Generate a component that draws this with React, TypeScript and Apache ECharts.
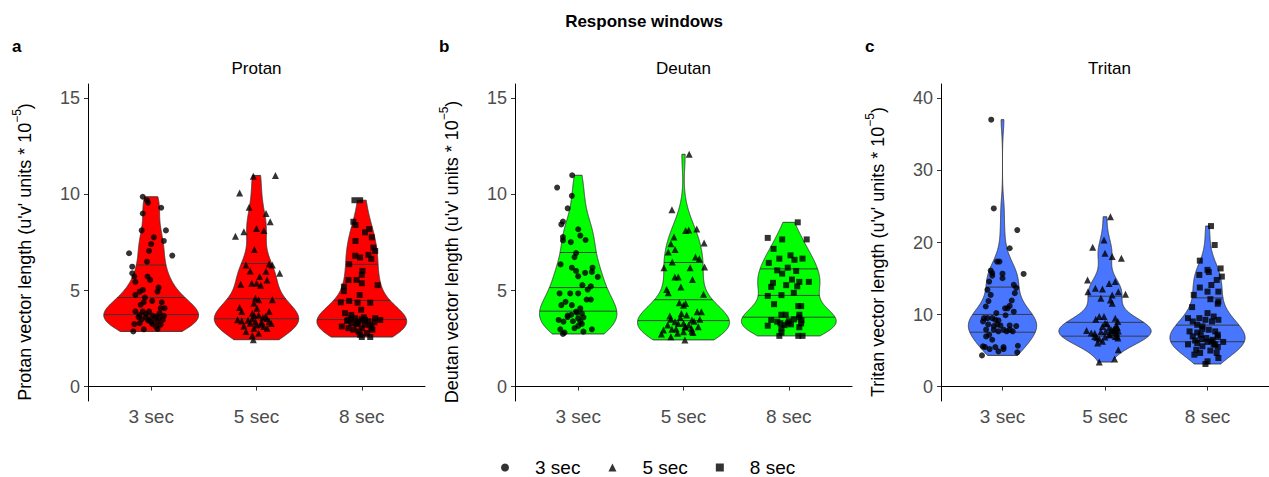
import React, { useEffect, useRef } from 'react';
import * as echarts from 'echarts';

const categories = ['3 sec', '5 sec', '8 sec'];
const panelTitles = ['Protan', 'Deutan', 'Tritan'];
const panelLetters = ['a', 'b', 'c'];
const yNamePrefixes = ['Protan', 'Deutan', 'Tritan'];
const yTicks = [[0, 5, 10, 15], [0, 5, 10, 15], [0, 10, 20, 30, 40]];
const yLimits = [[0, 15], [0, 15], [0, 40]];
const fills = ['#FF0000', '#00FF00', '#4876FF'];
const symbols = ['circle', 'triangle', 'rect'];
const symbolSizes = [6, 7, 6];

// points: [horizontal jitter offset (category units), value]
const protan3s = [[-0.08,9.88],[-0.04,9.70],[-0.03,9.58],[0.095,9.31],[-0.08,9.01],[0.14,8.13],[-0.09,8.13],[0.025,7.77],[0.12,7.58],[0,7.42],[-0.02,7.06],[-0.21,6.94],[0.2,6.82],[-0.04,6.5],[-0.18,6.24],[-0.18,5.9],[-0.16,5.73],[-0.035,5.73],[-0.01,5.55],[-0.15,5.45],[0.07,5.15],[-0.08,5.03],[0.06,4.94],[-0.11,4.94],[-0.15,4.77],[-0.06,4.63],[0.01,4.46],[-0.07,4.39],[0.1,4.39],[-0.1,4.26],[0.127,4.08],[0.09,4.08],[-0.08,3.91],[-0.15,3.91],[-0.02,3.91],[-0.11,3.73],[0.01,3.70],[-0.05,3.6],[0.045,3.65],[0.076,3.56],[0.11,3.47],[-0.02,3.47],[0.06,3.39],[-0.11,3.3],[-0.16,3.25],[0.013,3.25],[0.09,3.22],[0.045,3.13],[0.06,3.0],[-0.07,2.98],[-0.17,2.87],[-0.03,3.45],[0.03,3.55],[-0.12,3.62],[0.12,3.68],[-0.05,3.78],[0.08,3.82],[0,3.35],[-0.09,3.5]];
const protan5s = [[-0.03,10.95],[0.18,10.99],[-0.16,10.07],[-0.07,9.34],[0.09,9.01],[0.13,8.58],[0,8.23],[0.07,8.13],[-0.12,8.06],[-0.2,7.82],[-0.02,7.14],[-0.1,6.33],[0.12,6.38],[0.15,6.33],[-0.06,6.02],[0.09,6.0],[0.22,5.9],[0.03,5.73],[0.1,5.55],[-0.045,5.38],[0,5.38],[-0.15,5.33],[0.04,5.28],[-0.01,4.6],[0.02,4.52],[0.15,4.52],[-0.025,4.34],[-0.16,4.12],[0.005,4.08],[0.12,3.91],[-0.14,3.91],[-0.04,3.82],[0.02,3.73],[0.085,3.65],[-0.18,3.48],[-0.14,3.42],[-0.04,3.53],[-0.01,3.39],[-0.06,3.3],[0.04,3.25],[0.12,3.39],[0.07,3.13],[-0.025,3.04],[-0.1,2.87],[0.02,2.78],[0.1,3.04],[-0.03,2.44],[-0.04,2.66],[0,3.2],[0.05,3.35],[-0.08,3.45],[0.1,3.55],[-0.12,3.15],[0.14,3.28],[0.06,3.6],[-0.02,3.7]];
const protan8s = [[-0.07,9.70],[-0.016,9.70],[-0.08,8.58],[-0.06,8.41],[0.03,8.03],[0.07,8.2],[0.095,7.77],[-0.06,7.58],[0.11,7.23],[0.127,7.06],[-0.063,6.81],[-0.016,6.72],[0.063,6.86],[0.09,6.65],[-0.12,6.37],[0.006,6.02],[0,5.82],[-0.127,5.55],[-0.05,5.55],[0,5.38],[0.15,5.28],[-0.17,5.2],[-0.17,4.97],[-0.02,4.77],[-0.2,4.39],[-0.12,4.46],[-0.04,4.37],[0.08,4.37],[-0.006,4.0],[-0.16,3.82],[-0.1,3.73],[-0.063,3.56],[0.127,3.56],[0.175,3.47],[-0.127,3.47],[-0.03,3.39],[0.03,3.47],[-0.1,3.3],[-0.05,3.25],[-0.19,3.13],[-0.127,3.04],[0,3.04],[0.03,3.22],[0.09,3.07],[-0.08,2.96],[-0.03,2.87],[-0.016,2.70],[0,2.58],[0.08,2.58],[0.05,2.78],[0.1,2.96],[-0.04,3.3],[0.06,3.4],[0.12,3.35],[-0.1,3.55],[0.02,3.6],[0.08,3.2],[-0.14,3.42],[0,3.5]];
const deutan3s = [[-0.057,11.0],[-0.2,10.36],[-0.06,9.93],[-0.1,9.28],[-0.145,8.59],[-0.16,8.44],[0,8.19],[-0.145,7.78],[-0.145,7.61],[0.02,7.86],[0.07,7.63],[-0.07,7.52],[-0.02,6.95],[-0.035,6.74],[-0.167,6.36],[-0.06,6.19],[-0.02,6.02],[0.136,6.19],[0.066,5.92],[0,5.74],[0.186,5.71],[0.13,5.97],[0.04,5.28],[0.12,5.22],[0.09,5.05],[-0.177,4.85],[-0.076,4.85],[0,4.85],[-0.12,4.41],[-0.16,4.24],[-0.06,4.24],[0.08,4.53],[0.12,4.53],[0.02,4.07],[-0.013,3.85],[0.035,3.81],[-0.1,3.62],[-0.066,3.74],[-0.186,3.47],[-0.14,3.38],[0.02,3.38],[0.035,3.26],[0,3.16],[-0.035,3.04],[-0.17,2.98],[0.13,2.98],[0.05,2.86],[-0.13,2.81],[-0.145,2.74],[-0.05,3.4],[0,3.55],[-0.1,3.7],[0.05,3.6],[-0.02,3.9]];
const deutan5s = [[0.054,12.09],[-0.11,9.21],[0.02,8.12],[0.05,8.15],[0.126,8.2],[-0.09,7.78],[0.196,7.47],[-0.12,7.44],[-0.08,7.13],[-0.145,7.0],[0.114,6.74],[0.15,6.65],[-0.107,6.48],[-0.186,6.19],[0.063,6.19],[0.2,6.23],[-0.082,5.71],[-0.05,5.71],[0.085,5.57],[-0.025,5.19],[-0.145,4.88],[0.19,4.81],[-0.16,5.05],[-0.04,4.36],[0.02,4.33],[0.13,3.9],[0.17,3.9],[0,4.24],[-0.13,3.67],[-0.02,3.81],[0.03,3.72],[0.08,3.47],[0.155,3.5],[-0.08,3.38],[-0.15,3.21],[-0.05,3.29],[0.013,3.12],[0.076,3.03],[-0.19,2.95],[-0.11,2.98],[0,2.86],[0.14,3.12],[-0.21,2.74],[-0.12,2.6],[-0.057,2.78],[0.09,2.81],[0.013,2.43],[0,3.3],[0.05,3.2],[-0.07,3.0],[0.1,3.4],[-0.12,3.5],[0.02,3.1],[0.08,2.9],[-0.03,3.6]];
const deutan8s = [[0.085,8.55],[-0.2,7.74],[-0.063,7.66],[0.17,7.66],[-0.145,7.17],[-0.09,6.66],[0.016,6.83],[0.054,6.6],[0.13,6.66],[-0.19,6.44],[-0.01,6.19],[-0.11,6.05],[0.07,6.02],[-0.063,5.88],[-0.15,5.4],[0.03,5.57],[0.1,5.45],[0.19,5.45],[-0.167,5.19],[-0.025,5.28],[0.08,5.22],[-0.2,4.72],[-0.07,4.76],[0.047,4.88],[-0.14,4.29],[0.09,4.19],[0.117,4.19],[-0.07,3.74],[-0.03,3.74],[0.1,3.74],[-0.167,3.47],[-0.11,3.38],[-0.01,3.29],[0.02,3.24],[-0.2,3.17],[0.117,3.29],[-0.07,3.03],[0.1,3.09],[-0.07,2.81],[0.09,2.64],[0.13,2.64],[-0.09,2.64],[0,3.4],[0.05,3.5],[-0.08,3.3],[0.1,3.6],[-0.04,3.2],[0.12,3.45]];
const tritan3s = [[-0.11,37.05],[-0.085,24.73],[0.144,21.73],[0.07,19.2],[-0.053,17.35],[-0.03,17.35],[-0.115,16.1],[-0.1,15.76],[0,15.67],[0.206,15.64],[-0.13,14.58],[-0.1,15.4],[0,15.04],[-0.147,13.43],[0.11,14.12],[0.134,13.71],[-0.115,12.73],[0.09,11.95],[0.12,12.96],[-0.137,11.87],[-0.163,11.12],[0.07,11.2],[0.025,10.87],[0.05,10.87],[-0.06,10.2],[0.03,9.9],[0.11,10.4],[-0.18,9.5],[-0.19,9.04],[-0.147,9.5],[-0.1,9.5],[-0.07,9.27],[-0.04,9.18],[-0.14,8.63],[-0.085,8.4],[-0.05,8.63],[-0.02,8.49],[-0.16,7.9],[-0.085,7.9],[-0.04,7.67],[0.01,7.9],[0.04,7.67],[0.07,7.9],[0.1,7.67],[0.134,8.4],[0.07,8.49],[-0.16,6.96],[-0.13,7.19],[-0.1,6.5],[-0.19,5.58],[-0.17,5.49],[-0.125,5.21],[-0.07,5.49],[0.01,5.49],[0.15,5.67],[-0.04,4.89],[0.144,4.75],[-0.2,4.33],[0.01,5.21]];
const tritan5s = [[0.053,23.57],[-0.01,20.35],[-0.12,19.33],[0,18.5],[0.07,18.05],[0.16,17.8],[-0.17,14.8],[0.1,14.6],[0.04,14.3],[-0.094,13.64],[-0.166,13.18],[-0.025,13.55],[0.13,13.18],[0.2,12.8],[0.07,12.7],[-0.04,12.27],[0.053,12.03],[0.07,11.58],[-0.056,9.73],[-0.09,9.36],[-0.01,9.73],[0.1,9.5],[0.125,9.04],[0.02,8.72],[-0.025,8.35],[0.04,8.12],[0.085,7.89],[0.115,7.43],[-0.18,7.8],[-0.134,7.43],[-0.1,6.97],[-0.056,6.6],[-0.072,6.05],[-0.025,6.28],[0.125,6.74],[0.1,6.97],[0.13,5.12],[0.094,3.83],[-0.056,3.41],[0.006,7.66],[0.04,7.2],[0.11,8.5],[0.12,8.2],[0.06,7.9],[0.09,7.5],[0.12,7.0],[-0.08,6.8],[0,8.8],[0.13,7.7],[0.05,7.2],[-0.04,7.6],[0.1,8.0],[-0.1,7.4],[0,6.9],[0.08,7.8]];
const tritan8s = [[0.034,22.28],[0.07,19.65],[-0.075,17.48],[0,16.2],[-0.08,15.5],[0.0125,15.9],[0.128,16.4],[0.14,15.27],[0.09,14.8],[-0.075,13.75],[0.0375,14.1],[-0.134,12.73],[0,13.18],[0.106,13.18],[0.106,11.8],[0.028,12.13],[0.1,11.5],[-0.15,11.03],[-0.19,9.5],[-0.144,9.04],[-0.08,9.5],[0,10.2],[0.06,9.73],[-0.02,9.27],[0.044,9.04],[0.106,9.27],[-0.1,8.58],[-0.05,8.35],[-0.175,7.66],[0.0125,7.89],[0.075,7.66],[-0.144,6.97],[-0.066,7.2],[-0.0125,6.74],[0.1,7.2],[-0.19,5.86],[-0.1,6.05],[-0.05,5.59],[0.0375,6.28],[0.075,5.82],[0.153,6.2],[-0.11,5.12],[-0.072,4.66],[-0.128,4.43],[0.028,5.0],[0.09,4.66],[0.106,3.97],[0,3.51],[-0.02,3.14],[-0.1,7.5],[0.05,6.5],[-0.05,8.0],[0.1,5.5],[0,6.2],[-0.06,6.6],[0.06,5.9],[-0.12,6.4],[0.1,6.9]];

const panelData = [
  [protan3s, protan5s, protan8s],
  [deutan3s, deutan5s, deutan8s],
  [tritan3s, tritan5s, tritan8s],
];

const FONT = 'Liberation Sans, Arial, Helvetica, sans-serif';

function quantile7(s: number[], p: number) {
  const n = s.length;
  const h = (n - 1) * p;
  const lo = Math.floor(h);
  const hi = Math.min(lo + 1, n - 1);
  return s[lo] + (h - lo) * (s[hi] - s[lo]);
}

function ydensity(vals: number[]) {
  const s = [...vals].sort((a, b) => a - b);
  const n = s.length;
  const mean = s.reduce((a, b) => a + b, 0) / n;
  const sd = Math.sqrt(s.reduce((a, b) => a + (b - mean) * (b - mean), 0) / (n - 1));
  const iqr = quantile7(s, 0.75) - quantile7(s, 0.25);
  let lo = Math.min(sd, iqr / 1.34);
  if (!(lo > 0)) lo = sd || 1;
  const bw = 0.9 * lo * Math.pow(n, -0.2);
  const N = 512;
  const ys: number[] = [];
  const dens: number[] = [];
  const ymin = s[0];
  const ymax = s[n - 1];
  for (let i = 0; i < N; i++) {
    const y = ymin + ((ymax - ymin) * i) / (N - 1);
    let d = 0;
    for (const v of s) {
      const z = (y - v) / bw;
      d += Math.exp(-0.5 * z * z);
    }
    ys.push(y);
    dens.push(d / (n * bw * Math.sqrt(2 * Math.PI)));
  }
  return { ys, dens };
}

function interp(xs: number[], ys: number[], x: number) {
  for (let i = 1; i < xs.length; i++) {
    if (xs[i] >= x) {
      const t = (x - xs[i - 1]) / (xs[i] - xs[i - 1] || 1);
      return ys[i - 1] + t * (ys[i] - ys[i - 1]);
    }
  }
  return ys[ys.length - 1];
}

function buildViolins(groups: number[][][]) {
  const ds = groups.map((g) => ydensity(g.map((p) => p[1])));
  const maxD = Math.max(...ds.map((d) => Math.max(...d.dens)));
  return ds.map((d) => {
    const hw = d.dens.map((v) => (0.45 * v) / maxD);
    const total = d.dens.reduce((a, b) => a + b, 0);
    let acc = 0;
    const cum = d.dens.map((v) => (acc += v) / total);
    const quants = [0.25, 0.5, 0.75].map((p) => {
      const y = interp(cum, d.ys, p);
      return { y, hw: interp(d.ys, hw, y) };
    });
    return { ys: d.ys, hw, quants };
  });
}

const App: React.FC = () => {
  const ref = useRef<HTMLDivElement>(null);

  useEffect(() => {
    document.body.style.margin = '0';
    if (!ref.current) return;
    const chart = echarts.init(ref.current, undefined, { renderer: 'svg' });

    const lefts = [88, 515, 941];
    const width = 337;
    const top = 84;
    const height = 317;

    const grids: any[] = [];
    const xAxes: any[] = [];
    const yAxes: any[] = [];
    const series: any[] = [];
    const graphics: any[] = [];

    graphics.push({
      type: 'text', x: 644, y: 21,
      style: { text: 'Response windows', fontSize: 17, fontWeight: 'bold', fontFamily: FONT, fill: '#000', align: 'center', verticalAlign: 'middle' },
    });

    panelData.forEach((groups, p) => {
      const [lo, hi] = yLimits[p];
      const pad = (hi - lo) * 0.05;
      grids.push({ left: lefts[p], top, width, height, containLabel: false });
      xAxes.push({
        type: 'value', gridIndex: p, min: 0.4, max: 3.6,
        axisLine: { show: true, lineStyle: { color: '#000', width: 1 } },
        axisTick: { show: true, customValues: [1, 2, 3], length: 4, lineStyle: { color: '#333' } },
        axisLabel: {
          customValues: [1, 2, 3], formatter: (v: number) => categories[Math.round(v) - 1] || '',
          color: '#4D4D4D', fontSize: 19, fontFamily: FONT, margin: 6,
        },
        splitLine: { show: false },
      });
      yAxes.push({
        type: 'value', gridIndex: p, min: lo - pad, max: hi + pad,
        axisLine: { show: true, lineStyle: { color: '#000', width: 1 } },
        axisTick: { show: true, customValues: yTicks[p], length: 4, lineStyle: { color: '#333' } },
        axisLabel: { customValues: yTicks[p], color: '#4D4D4D', fontSize: 18, fontFamily: FONT, margin: 8 },
        splitLine: { show: false },
      });

      const violins = buildViolins(groups);
      const fill = fills[p];
      series.push({
        type: 'custom', name: panelTitles[p] + ' violin', xAxisIndex: p, yAxisIndex: p, z: 1,
        silent: true,
        data: violins.map((v, k) => [k + 1, v.ys[v.ys.length - 1]]),
        renderItem: (params: any, api: any) => {
          const v = violins[params.dataIndex];
          const pos = params.dataIndex + 1;
          const left = v.ys.map((y, i) => api.coord([pos - v.hw[i], y]));
          const right = v.ys.map((y, i) => api.coord([pos + v.hw[i], y])).reverse();
          const children: any[] = [
            { type: 'polygon', shape: { points: left.concat(right) }, style: { fill, stroke: '#333', lineWidth: 0.9 } },
          ];
          v.quants.forEach((q) => {
            const a = api.coord([pos - q.hw, q.y]);
            const b = api.coord([pos + q.hw, q.y]);
            children.push({ type: 'line', shape: { x1: a[0], y1: a[1], x2: b[0], y2: b[1] }, style: { stroke: '#333', lineWidth: 0.9 } });
          });
          return { type: 'group', children };
        },
      });

      groups.forEach((pts, k) => {
        series.push({
          type: 'scatter', name: categories[k], xAxisIndex: p, yAxisIndex: p, z: 3,
          symbol: symbols[k], symbolSize: symbolSizes[k],
          itemStyle: { color: '#000' },
          data: pts.map(([dx, v]) => [k + 1 + dx, v]),
        });
      });

      const cx = lefts[p] + width / 2;
      graphics.push({
        type: 'text', x: lefts[p] - 76, y: 46,
        style: { text: panelLetters[p], fontSize: 17, fontWeight: 'bold', fontFamily: FONT, fill: '#000', align: 'left', verticalAlign: 'middle' },
      });
      graphics.push({
        type: 'text', x: cx, y: 68,
        style: { text: panelTitles[p], fontSize: 17, fontFamily: FONT, fill: '#000', align: 'center', verticalAlign: 'middle' },
      });
      graphics.push({
        type: 'text', x: lefts[p] - 66, y: 252, rotation: Math.PI / 2,
        style: {
          text: `{n|${yNamePrefixes[p]} vector length (u'v' units * 10}{s|−5}{n|)}`,
          rich: {
            n: { fontSize: 18, fontFamily: FONT, fill: '#000', lineHeight: 23, verticalAlign: 'bottom' },
            s: { fontSize: 12, fontFamily: FONT, fill: '#000', lineHeight: 23, verticalAlign: 'top' },
          },
          align: 'center', verticalAlign: 'middle',
        },
      });
    });

    chart.setOption({
      animation: false,
      backgroundColor: '#fff',
      grid: grids,
      xAxis: xAxes,
      yAxis: yAxes,
      series,
      graphic: graphics,
      legend: {
        data: [
          { name: '3 sec', icon: 'circle' },
          { name: '5 sec', icon: 'triangle' },
          { name: '8 sec', icon: 'rect' },
        ],
        left: 496, top: 453, padding: 5, itemWidth: 8, itemHeight: 8, itemGap: 28, selectedMode: false,
        textStyle: { fontSize: 19, lineHeight: 19, color: '#000', fontFamily: FONT, padding: [0, 0, 0, 21] },
      },
    });

    return () => chart.dispose();
  }, []);

  return <div ref={ref} style={{ width: 1269, height: 477 }} />;
};

export default App;
